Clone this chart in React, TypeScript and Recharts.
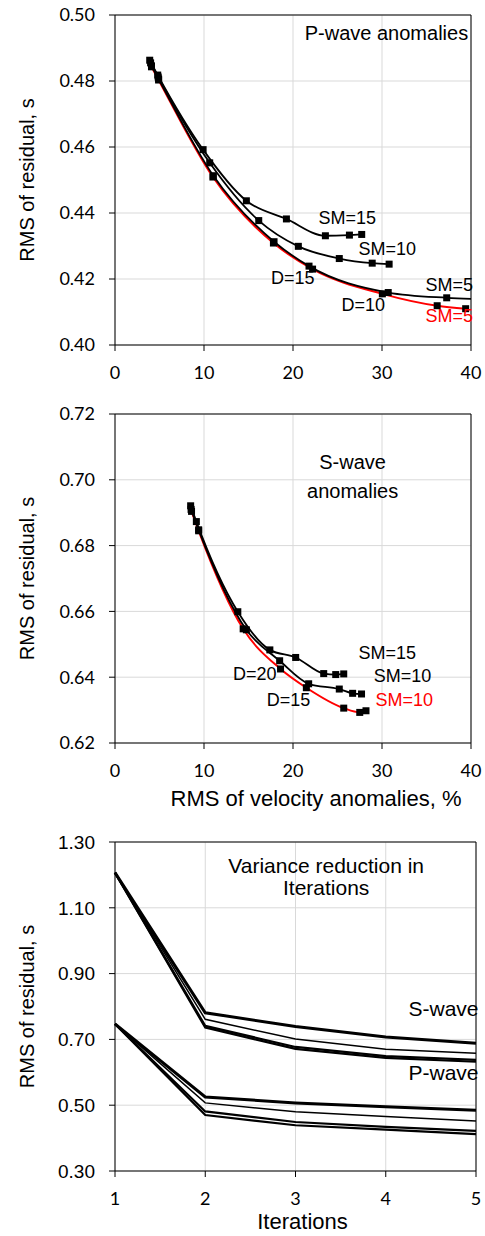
import React from "react";
import { LineChart, Line, XAxis, YAxis, CartesianGrid, ReferenceLine, ReferenceDot } from "recharts";

// ---- P-wave panel: RMS of velocity anomalies (%) vs RMS of residual (s)
const pSm15X = [3.9, 4.8, 9.9, 14.76, 19.26, 23.64, 26.34, 27.72];
const pSm15Y = [0.4863, 0.4818, 0.4592, 0.4437, 0.4382, 0.4331, 0.4333, 0.4335];
const pSm10X = [4.0, 4.85, 10.64, 16.15, 20.6, 25.2, 28.9, 30.8];
const pSm10Y = [0.4855, 0.4812, 0.4552, 0.4377, 0.4299, 0.4262, 0.4248, 0.4245];
const pSm5X = [4.1, 4.9, 11.05, 17.87, 21.8, 30.7, 37.27, 41.5];
const pSm5Y = [0.4846, 0.4806, 0.4513, 0.4313, 0.4239, 0.4159, 0.4143, 0.4138];
const pRedX = [4.1, 4.9, 11.0, 17.8, 22.2, 30.04, 36.2, 39.4];
const pRedY = [0.4843, 0.4803, 0.4509, 0.4309, 0.423, 0.4155, 0.4119, 0.411];

const pNoteText = ["P-wave anomalies", "SM=15", "SM=10", "D=15", "D=10", "SM=5"];
const pNoteX = [30.5, 26.1, 30.6, 19.97, 27.9, 37.55];
const pNoteY = [0.4945, 0.4385, 0.4291, 0.4203, 0.4121, 0.4182];
const pRedNote = { text: "SM=5", x: 37.55, y: 0.4088 };

// ---- S-wave panel
const sSm15X = [8.5, 9.14, 13.8, 17.4, 20.3, 23.45, 24.8, 25.7];
const sSm15Y = [0.6921, 0.6873, 0.6599, 0.6483, 0.646, 0.6411, 0.6408, 0.641];
const sSm10X = [8.55, 9.4, 14.76, 18.5, 21.76, 25.2, 26.7, 27.7];
const sSm10Y = [0.691, 0.6848, 0.6544, 0.645, 0.638, 0.6364, 0.6351, 0.6349];
const sRedX = [8.6, 9.4, 14.4, 18.6, 21.5, 25.7, 27.5, 28.2];
const sRedY = [0.6904, 0.6845, 0.6547, 0.6425, 0.6368, 0.6306, 0.6293, 0.6298];

const sNoteText = ["S-wave", "anomalies", "SM=15", "SM=10", "D=20", "D=15"];
const sNoteX = [26.7, 26.7, 30.6, 32.3, 15.7, 19.5];
const sNoteY = [0.7055, 0.6967, 0.6475, 0.6403, 0.6411, 0.633];
const sRedNote = { text: "SM=10", x: 32.5, y: 0.633 };

// ---- Iterations panel
const iterations = [1, 2, 3, 4, 5];
const sIterA = [1.207, 0.781, 0.739, 0.707, 0.688];
const sIterB = [1.207, 0.761, 0.701, 0.67, 0.658];
const sIterC = [1.207, 0.741, 0.677, 0.649, 0.638];
const sIterD = [1.207, 0.736, 0.671, 0.644, 0.632];
const pIterA = [0.747, 0.525, 0.507, 0.495, 0.485];
const pIterB = [0.747, 0.507, 0.48, 0.466, 0.452];
const pIterC = [0.747, 0.481, 0.449, 0.434, 0.422];
const pIterD = [0.747, 0.47, 0.439, 0.426, 0.412];

const iNoteText = ["Variance reduction in", "Iterations", "S-wave", "P-wave"];
const iNoteX = [3.34, 3.34, 4.64, 4.64];
const iNoteY = [1.23, 1.161, 0.795, 0.6];

const zip = (xs: number[], ys: number[]) => xs.map((x, i) => ({ x, y: ys[i] }));

const ARIAL = "'Liberation Sans', Arial, sans-serif";
const CALIBRI = "Lato, 'Open Sans', sans-serif";

const squareDot = (props: any) => {
  const { cx, cy, index } = props;
  if (cx == null || cy == null) return <g key={index} />;
  return <rect key={index} x={cx - 3.5} y={cy - 3.5} width={7} height={7} fill="#000" />;
};

const noteShape = (text: string, color: string, size: number) => (p: any) => (
  <text
    x={p.cx}
    y={p.cy}
    textAnchor="middle"
    dominantBaseline="central"
    fill={color}
    fontSize={size}
    fontFamily={ARIAL}
  >
    {text}
  </text>
);

const calTick = { fill: "#000", fontSize: 18, fontFamily: CALIBRI };
const yLabel = {
  value: "RMS of residual, s",
  angle: -90,
  position: "insideLeft" as const,
  offset: 27,
  fill: "#000",
  fontSize: 20,
  fontFamily: ARIAL,
  style: { textAnchor: "middle" },
};
const fmt2 = (v: number) => v.toFixed(2);

function PWaveChart() {
  return (
    <LineChart width={485} height={400} margin={{ top: 15, right: 14, bottom: 25, left: 0 }}>
      <CartesianGrid stroke="#d9d9d9" />
      <XAxis type="number" dataKey="x" domain={[0, 40]} ticks={[0, 10, 20, 30, 40]} allowDataOverflow
        height={30} stroke="#000" tickSize={6} tickMargin={15} tick={calTick} />
      <YAxis type="number" domain={[0.4, 0.5]} ticks={[0.4, 0.42, 0.44, 0.46, 0.48, 0.5]} allowDataOverflow
        width={115} stroke="#000" tickSize={6} tickMargin={14} tick={calTick} tickFormatter={fmt2} label={yLabel} />
      <ReferenceLine y={0.5} stroke="#000" />
      <ReferenceLine x={40} stroke="#000" />
      <Line data={zip(pRedX, pRedY)} dataKey="y" type="monotone" stroke="#ff0000" strokeWidth={2} dot={squareDot} isAnimationActive={false} />
      <Line data={zip(pSm15X, pSm15Y)} dataKey="y" type="monotone" stroke="#000" strokeWidth={1.8} dot={squareDot} isAnimationActive={false} />
      <Line data={zip(pSm10X, pSm10Y)} dataKey="y" type="monotone" stroke="#000" strokeWidth={1.8} dot={squareDot} isAnimationActive={false} />
      <Line data={zip(pSm5X, pSm5Y)} dataKey="y" type="monotone" stroke="#000" strokeWidth={1.8} dot={squareDot} isAnimationActive={false} />
      {pNoteText.map((t, i) => (
        <ReferenceDot key={t + i} x={pNoteX[i]} y={pNoteY[i]} r={0} shape={noteShape(t, "#000", i === 0 ? 20 : 18)} />
      ))}
      <ReferenceDot x={pRedNote.x} y={pRedNote.y} r={0} shape={noteShape(pRedNote.text, "#ff0000", 18)} />
    </LineChart>
  );
}

function SWaveChart() {
  return (
    <LineChart width={485} height={430} margin={{ top: 14, right: 14, bottom: 23, left: 0 }}>
      <CartesianGrid stroke="#d9d9d9" />
      <XAxis type="number" dataKey="x" domain={[0, 40]} ticks={[0, 10, 20, 30, 40]}
        height={64} stroke="#000" tickSize={6} tickMargin={15} tick={calTick}
        label={{ value: "RMS of velocity anomalies, %", position: "insideBottom", offset: 1, dx: 23, fill: "#000", fontSize: 22, fontFamily: ARIAL }} />
      <YAxis type="number" domain={[0.62, 0.72]} ticks={[0.62, 0.64, 0.66, 0.68, 0.7, 0.72]}
        width={115} stroke="#000" tickSize={6} tickMargin={14} tick={calTick} tickFormatter={fmt2} label={yLabel} />
      <ReferenceLine y={0.72} stroke="#000" />
      <ReferenceLine x={40} stroke="#000" />
      <Line data={zip(sRedX, sRedY)} dataKey="y" type="monotone" stroke="#ff0000" strokeWidth={2} dot={squareDot} isAnimationActive={false} />
      <Line data={zip(sSm15X, sSm15Y)} dataKey="y" type="monotone" stroke="#000" strokeWidth={1.8} dot={squareDot} isAnimationActive={false} />
      <Line data={zip(sSm10X, sSm10Y)} dataKey="y" type="monotone" stroke="#000" strokeWidth={1.8} dot={squareDot} isAnimationActive={false} />
      {sNoteText.map((t, i) => (
        <ReferenceDot key={t + i} x={sNoteX[i]} y={sNoteY[i]} r={0} shape={noteShape(t, "#000", i < 2 ? 20 : 18)} />
      ))}
      <ReferenceDot x={sRedNote.x} y={sRedNote.y} r={0} shape={noteShape(sRedNote.text, "#ff0000", 18)} />
    </LineChart>
  );
}

function IterChart() {
  const sSeries = [sIterA, sIterB, sIterC, sIterD];
  const pSeries = [pIterA, pIterB, pIterC, pIterD];
  const widths = [3, 1.5, 2.2, 2.2];
  return (
    <LineChart width={485} height={406} margin={{ top: 12, right: 9, bottom: 5, left: 0 }}>
      <CartesianGrid stroke="#d9d9d9" />
      <XAxis type="number" dataKey="x" domain={[1, 5]} ticks={iterations}
        height={60} stroke="#000" tickSize={6} tickMargin={15} tick={calTick}
        label={{ value: "Iterations", position: "insideBottom", offset: 2, dx: 7, fill: "#000", fontSize: 22, fontFamily: ARIAL }} />
      <YAxis type="number" domain={[0.3, 1.3]} ticks={[0.3, 0.5, 0.7, 0.9, 1.1, 1.3]}
        width={115} stroke="#000" tickSize={6} tickMargin={14}
        tick={{ fill: "#000", fontSize: 19, fontFamily: ARIAL }} tickFormatter={fmt2} label={yLabel} />
      <ReferenceLine y={1.3} stroke="#000" />
      <ReferenceLine x={5} stroke="#000" />
      {sSeries.map((s, i) => (
        <Line key={"s" + i} data={zip(iterations, s)} dataKey="y" type="linear" stroke="#000" strokeWidth={widths[i]} dot={false} isAnimationActive={false} />
      ))}
      {pSeries.map((s, i) => (
        <Line key={"p" + i} data={zip(iterations, s)} dataKey="y" type="linear" stroke="#000" strokeWidth={widths[i]} dot={false} isAnimationActive={false} />
      ))}
      {iNoteText.map((t, i) => (
        <ReferenceDot key={t + i} x={iNoteX[i]} y={iNoteY[i]} r={0} shape={noteShape(t, "#000", 21)} />
      ))}
    </LineChart>
  );
}

export default function App() {
  return (
    <div style={{ position: "absolute", left: 0, top: 0, width: 485, height: 1236, background: "#fff" }}>
      <div style={{ position: "absolute", left: 0, top: 0 }}>
        <PWaveChart />
      </div>
      <div style={{ position: "absolute", left: 0, top: 400 }}>
        <SWaveChart />
      </div>
      <div style={{ position: "absolute", left: 0, top: 830 }}>
        <IterChart />
      </div>
    </div>
  );
}
